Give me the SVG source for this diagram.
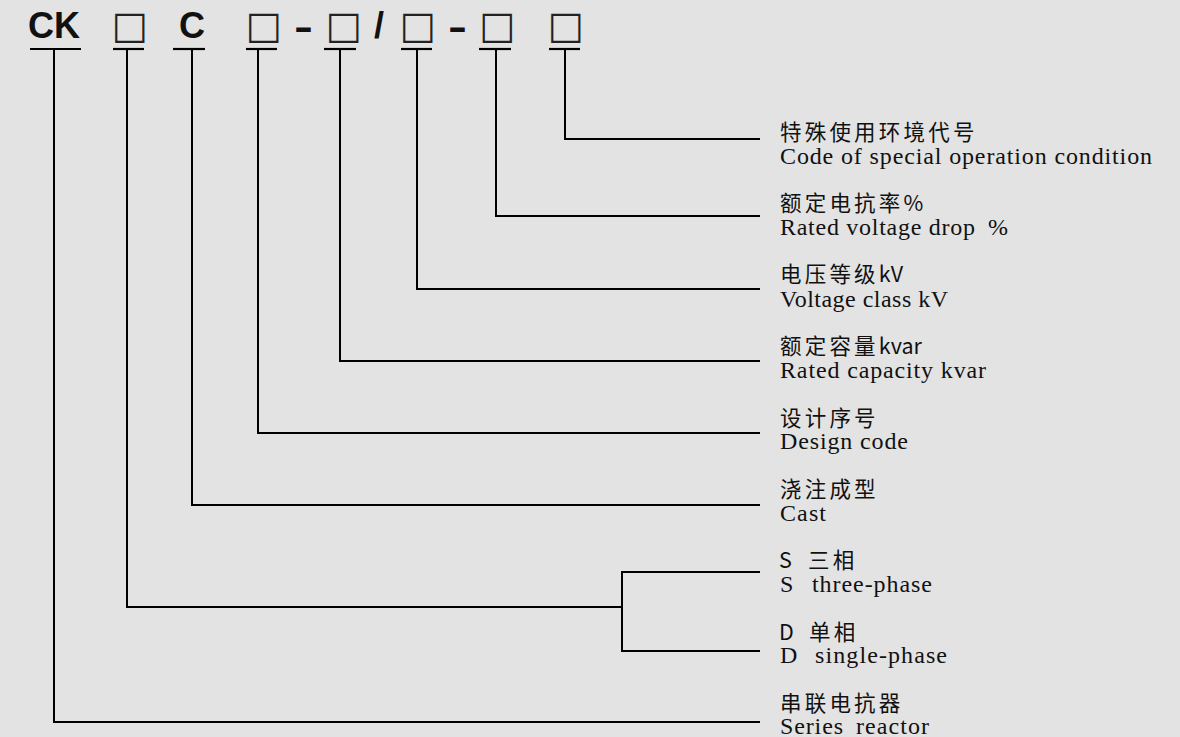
<svg xmlns="http://www.w3.org/2000/svg" width="1180" height="737" viewBox="0 0 1180 737">
<style>
.code{font-family:"Liberation Sans",Arial,sans-serif;font-weight:bold;font-size:36px;fill:#111}
.box{font-family:"DejaVu Sans",sans-serif;font-size:38px;fill:#222;text-anchor:middle}
.ul{stroke:#000;stroke-width:2.2;fill:none}
.conn{stroke:#000;stroke-width:2;fill:none}
.cn{font-family:"Noto Sans CJK SC","Noto Sans",sans-serif;font-size:21.5px;fill:#111}
.ls{letter-spacing:3.2px}
.en{font-family:"Liberation Serif","Times New Roman",serif;font-size:24px;fill:#111}
</style>
<rect x="0" y="0" width="1180" height="737" fill="#e3e3e3"/>
<g id="code">
  <g id="tok-CK"><text class="code" x="28" y="38">CK</text><line class="ul" x1="30" y1="49" x2="81" y2="49"/></g>
  <g id="tok-b1"><text class="box" x="129.5" y="38">□</text><line class="ul" x1="113" y1="49" x2="144" y2="49"/></g>
  <g id="tok-C"><text class="code" x="179" y="38">C</text><line class="ul" x1="173" y1="49" x2="205" y2="49"/></g>
  <g id="tok-b2"><text class="box" x="263.5" y="38">□</text><line class="ul" x1="246" y1="49" x2="277" y2="49"/></g>
  <text class="code" x="294" y="39" textLength="19" lengthAdjust="spacingAndGlyphs">-</text>
  <g id="tok-b3"><text class="box" x="343.5" y="38">□</text><line class="ul" x1="324" y1="49" x2="356" y2="49"/></g>
  <text class="code" x="374" y="38">/</text>
  <g id="tok-b4"><text class="box" x="417.5" y="38">□</text><line class="ul" x1="401" y1="49" x2="432" y2="49"/></g>
  <text class="code" x="448" y="39" textLength="19" lengthAdjust="spacingAndGlyphs">-</text>
  <g id="tok-b5"><text class="box" x="497" y="38">□</text><line class="ul" x1="479" y1="49" x2="511" y2="49"/></g>
  <g id="tok-b6"><text class="box" x="565.5" y="38">□</text><line class="ul" x1="549" y1="49" x2="580" y2="49"/></g>
</g>
<g id="connectors">
  <polyline class="conn" points="565,49 565,139 760,139"/>
  <polyline class="conn" points="496,49 496,216 760,216"/>
  <polyline class="conn" points="417,49 417,289 760,289"/>
  <polyline class="conn" points="340,49 340,361 760,361"/>
  <polyline class="conn" points="258,49 258,433 760,433"/>
  <polyline class="conn" points="192,49 192,505 760,505"/>
  <polyline class="conn" points="127,49 127,607 622,607"/>
  <polyline class="conn" points="760,572 622,572 622,651 760,651"/>
  <polyline class="conn" points="54,49 54,722 760,722"/>
</g>
<g id="label-special">
  <text class="cn ls" x="780" y="140">特殊使用环境代号</text>
  <text class="en" x="780" y="164" textLength="372" lengthAdjust="spacing">Code of special operation condition</text>
</g>
<g id="label-drop">
  <text class="cn" x="780" y="211"><tspan class="ls">额定电抗率</tspan><tspan>%</tspan></text>
  <text class="en" y="235"><tspan x="780" textLength="195" lengthAdjust="spacing">Rated voltage drop</tspan><tspan x="988">%</tspan></text>
</g>
<g id="label-voltage">
  <text class="cn" x="780" y="282"><tspan class="ls">电压等级</tspan><tspan>kV</tspan></text>
  <text class="en" x="780" y="307" textLength="168" lengthAdjust="spacing">Voltage class kV</text>
</g>
<g id="label-capacity">
  <text class="cn" x="780" y="354"><tspan class="ls">额定容量</tspan><tspan>kvar</tspan></text>
  <text class="en" x="780" y="378" textLength="206" lengthAdjust="spacing">Rated capacity kvar</text>
</g>
<g id="label-design">
  <text class="cn ls" x="780" y="426">设计序号</text>
  <text class="en" x="780" y="449" textLength="128" lengthAdjust="spacing">Design code</text>
</g>
<g id="label-cast">
  <text class="cn ls" x="780" y="497">浇注成型</text>
  <text class="en" x="780" y="521" textLength="46" lengthAdjust="spacing">Cast</text>
</g>
<g id="label-three">
  <text class="cn" y="568"><tspan x="779">S </tspan><tspan class="ls" x="808">三相</tspan></text>
  <text class="en" y="592"><tspan x="780">S</tspan><tspan x="812" textLength="120" lengthAdjust="spacing">three-phase</tspan></text>
</g>
<g id="label-single">
  <text class="cn" y="640"><tspan x="779">D </tspan><tspan class="ls" x="809">单相</tspan></text>
  <text class="en" y="663"><tspan x="780">D</tspan><tspan x="815" textLength="132" lengthAdjust="spacing">single-phase</tspan></text>
</g>
<g id="label-series">
  <text class="cn ls" x="780" y="711">串联电抗器</text>
  <text class="en" y="734"><tspan x="780" textLength="63" lengthAdjust="spacing">Series</tspan><tspan x="856" textLength="73" lengthAdjust="spacing">reactor</tspan></text>
</g>
</svg>
